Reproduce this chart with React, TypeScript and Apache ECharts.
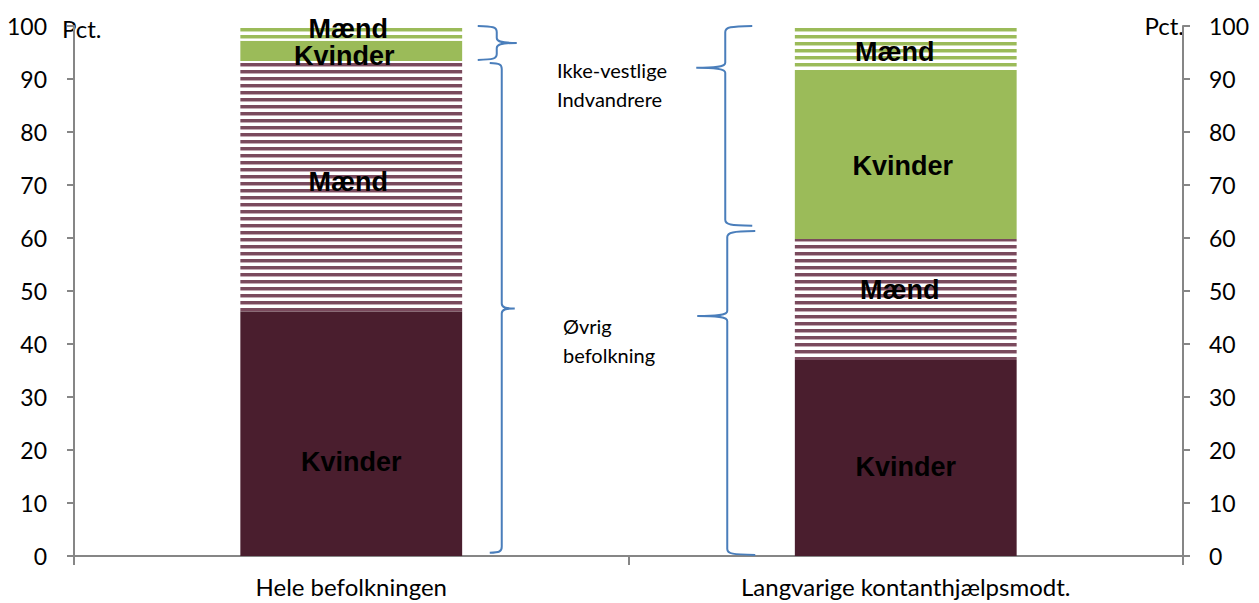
import React, { useEffect, useRef } from "react";
import * as echarts from "echarts";

// ---- data ----
const categories = ["Hele befolkningen", "Langvarige kontanthjælpsmodt."];
const kvinderOevrig = [46.2, 37.0];
const maendOevrig = [47.2, 22.8];
const kvinderIkkeVestlige = [3.8, 31.5];
const maendIkkeVestlige = [2.8, 8.7];
const segmentNames = ["Kvinder", "Mænd", "Kvinder", "Mænd"];
// braces: [categoryIndex, from, to, tip]
const braceSpans = [
  [0, 100, 93.6, 96.8],
  [0, 93.0, 0.6, 46.7],
  [1, 100, 62.3, 92.1],
  [1, 61.3, 0.2, 45.3],
];
const groupNotes = ["Ikke-vestlige\nIndvandrere", "Øvrig\nbefolkning"];
const axisUnit = "Pct.";

// ---- layout / style (not data) ----
const braceLayout = [
  { dx: 145.5, hook: 19, tip: 20, dir: 1 },
  { dx: 150.5, hook: 12, tip: 13, dir: 1 },
  { dx: -180.5, hook: 27, tip: 29, dir: -1 },
  { dx: -178.5, hook: 28, tip: 30, dir: -1 },
];
const labelOffsets = [
  [[0, 28], [0, 9]],
  [[-3, -4], [-6, -9]],
  [[-7, 5], [-3, 10]],
  [[-3, -4], [-11, 3]],
];

function stripe(color: string, edge: string) {
  const c = document.createElement("canvas");
  c.width = 8;
  c.height = 7;
  const g = c.getContext("2d")!;
  g.fillStyle = "#ffffff";
  g.fillRect(0, 0, 8, 7);
  g.fillStyle = color;
  g.fillRect(0, 0, 8, 3);
  g.fillStyle = edge;
  g.fillRect(0, 3, 8, 1);
  return c;
}

function bracePath(sx: number, y0: number, y1: number, ym: number, hook: number, tip: number, d: number) {
  const ex = sx - d * hook;
  const tx = sx + d * tip;
  return [
    `M ${ex} ${y0}`,
    `C ${sx - d * hook * 0.2} ${y0 + 0.5} ${sx} ${y0 + 1} ${sx} ${y0 + 6}`,
    `L ${sx} ${ym - 5}`,
    `C ${sx} ${ym - 1} ${sx + d * tip * 0.3} ${ym} ${tx} ${ym}`,
    `C ${sx + d * tip * 0.3} ${ym} ${sx} ${ym + 1} ${sx} ${ym + 5}`,
    `L ${sx} ${y1 - 6}`,
    `C ${sx} ${y1 - 1} ${sx - d * hook * 0.2} ${y1 - 0.5} ${ex} ${y1}`,
  ].join(" ");
}

export default function App() {
  const ref = useRef<HTMLDivElement>(null);
  useEffect(() => {
    if (!ref.current) return;
    const chart = echarts.init(ref.current, null, { renderer: "svg" });
    const maroonStripe = { image: stripe("#7a4a5d", "#c4a9b3"), repeat: "repeat" };
    const greenStripe = { image: stripe("#9bbb59", "#cfdeb0"), repeat: "repeat" };
    const colors: any[] = ["#4a1e2e", maroonStripe, "#9bbb59", greenStripe];
    const values = [kvinderOevrig, maendOevrig, kvinderIkkeVestlige, maendIkkeVestlige];

    const axisGrey = "#868686";
    const barSeries = values.map((vals, si) => ({
      type: "bar",
      name: segmentNames[si],
      stack: "total",
      barWidth: "40%",
      itemStyle: { color: colors[si] },
      label: {
        show: true,
        position: "inside",
        formatter: segmentNames[si],
        fontFamily: "Liberation Sans",
        fontWeight: "bold",
        fontSize: 27,
        color: "#000",
      },
      data: vals.map((v, ci) => ({ value: v, label: { offset: labelOffsets[si][ci] } })),
    }));

    const option: any = {
      animation: false,
      grid: { left: 74, right: 76, top: 26, bottom: 47 },
      xAxis: {
        type: "category",
        data: categories,
        axisLine: { lineStyle: { color: axisGrey, width: 2 } },
        axisTick: { show: true, length: 9, lineStyle: { color: axisGrey, width: 2 } },
        axisLabel: { fontFamily: "Lato", fontSize: 24, color: "#000", margin: 18 },
      },
      yAxis: [
        {
          type: "value",
          min: 0,
          max: 100,
          interval: 10,
          splitLine: { show: false },
          axisLine: { show: true, lineStyle: { color: axisGrey, width: 2 } },
          axisTick: { show: true, length: 7, lineStyle: { color: axisGrey, width: 2 } },
          axisLabel: { fontFamily: "Lato", fontSize: 23, color: "#000", margin: 27 },
        },
        {
          type: "value",
          position: "right",
          min: 0,
          max: 100,
          interval: 10,
          splitLine: { show: false },
          axisLine: { show: true, lineStyle: { color: axisGrey, width: 2 } },
          axisTick: { show: true, length: 7, lineStyle: { color: axisGrey, width: 2 } },
          axisLabel: { fontFamily: "Lato", fontSize: 23, color: "#000", margin: 26 },
        },
      ],
      series: [
        ...barSeries,
        {
          type: "custom",
          coordinateSystem: "cartesian2d",
          data: braceSpans,
          encode: { x: 0, y: [1, 2, 3] },
          clip: false,
          silent: true,
          z: 5,
          renderItem: (params: any, api: any) => {
            const i = params.dataIndex;
            const cat = api.value(0);
            const p0 = api.coord([cat, api.value(1)]);
            const p1 = api.coord([cat, api.value(2)]);
            const pm = api.coord([cat, api.value(3)]);
            const L = braceLayout[i];
            const sx = p0[0] + L.dx;
            return {
              type: "path",
              shape: { pathData: bracePath(sx, p0[1], p1[1], pm[1], L.hook, L.tip, L.dir) },
              style: { fill: "none", stroke: "#4a7ebb", lineWidth: 2 },
            };
          },
        },
      ],
      graphic: [
        {
          type: "text",
          left: 557,
          top: 55,
          style: { text: groupNotes[0], font: "20px Lato", lineHeight: 29, fill: "#000" },
        },
        {
          type: "text",
          left: 563,
          top: 311,
          style: { text: groupNotes[1], font: "20px Lato", lineHeight: 29, fill: "#000" },
        },
        {
          type: "text",
          left: 62,
          top: 16,
          style: { text: axisUnit, font: "24px Lato", fill: "#000" },
        },
        {
          type: "text",
          right: 75,
          top: 13,
          style: { text: axisUnit, font: "24px Lato", fill: "#000" },
        },
      ],
    };
    chart.setOption(option);
    return () => chart.dispose();
  }, []);
  return (
    <div
      ref={ref}
      style={{ position: "fixed", left: 0, top: 0, width: 1259, height: 603, background: "#fff" }}
    />
  );
}
